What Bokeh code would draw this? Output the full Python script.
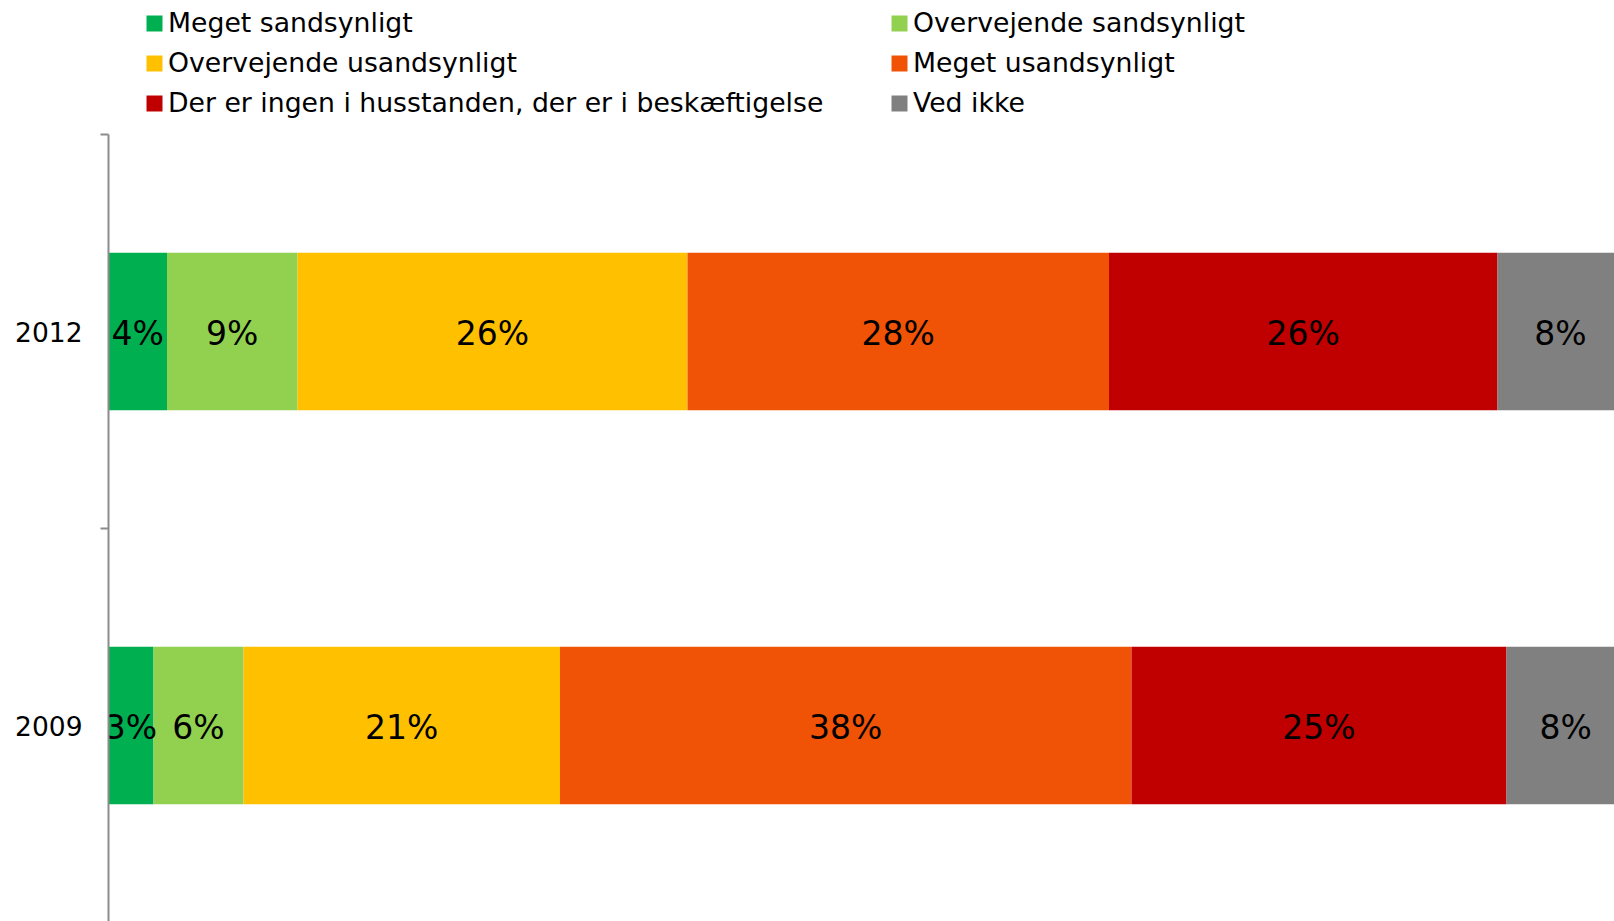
from bokeh.plotting import figure
from bokeh.models import Range1d, FixedTicker, Legend, LegendItem
from bokeh.embed import file_html
from bokeh.resources import INLINE
from bokeh.core.properties import value

# ---- data ----
years = ["2012", "2009"]
year_pos = [3, 1]
series = [
    "Meget sandsynligt",
    "Overvejende sandsynligt",
    "Overvejende usandsynligt",
    "Meget usandsynligt",
    "Der er ingen i husstanden, der er i beskæftigelse",
    "Ved ikke",
]
values_2012 = [3.9, 8.7, 26.0, 28.1, 25.9, 8.4]
values_2009 = [3.0, 6.0, 21.1, 38.1, 25.0, 7.9]
colors = ["#00B050", "#92D050", "#FFC000", "#F05206", "#C00000", "#808080"]

FONT = "DejaVu Sans"
AXIS_GRAY = "#8C8C8C"

W, H = 1614, 921
LEFT = 108          # frame left (canvas px)
TOP_AXIS = 134      # where the category axis starts (canvas px)
UNIT = 197          # px per y unit
PX_PER_PCT = 15

p = figure(
    width=W, height=H,
    output_backend="svg", toolbar_location=None,
    x_range=Range1d(0, (W - LEFT) / PX_PER_PCT),
    y_range=Range1d(4 - (H - TOP_AXIS) / UNIT, 4 + TOP_AXIS / UNIT),
    x_axis_location=None,
    min_border_left=LEFT, min_border_right=0, min_border_top=0, min_border_bottom=0,
    outline_line_color=None,
)
p.xgrid.visible = False
p.ygrid.visible = False

rows = [values_2012, values_2009]
lefts = [0.0 for _ in rows]
items = []
label_x, label_y, label_t = [], [], []
for i, name in enumerate(series):
    vals = [r[i] for r in rows]
    left = list(lefts)
    right = [l + v for l, v in zip(left, vals)]
    r = p.hbar(y=year_pos, left=left, right=right, height=0.8,
               fill_color=colors[i], line_color=None)
    items.append(LegendItem(label=name, renderers=[r]))
    for l, v, y in zip(left, vals, year_pos):
        label_x.append(l + v / 2)
        label_y.append(y)
        label_t.append(f"{round(v)}%")
    lefts = right

p.text(x=label_x, y=label_y, text=label_t, text_align="center", text_baseline="middle",
       y_offset=2,
       text_font=value(FONT), text_font_size="33px", text_color="black")

ax = p.yaxis[0]
ax.bounds = (0, 4)
ax.ticker = FixedTicker(ticks=year_pos, minor_ticks=[0, 2, 4])
ax.major_label_overrides = {pos: y for pos, y in zip(year_pos, years)}
ax.axis_line_color = AXIS_GRAY
ax.axis_line_width = 2
ax.major_tick_line_color = None
ax.major_tick_out = 0
ax.major_tick_in = 0
ax.minor_tick_line_color = AXIS_GRAY
ax.minor_tick_line_width = 2
ax.minor_tick_out = 8
ax.minor_tick_in = 0
ax.major_label_text_font = FONT
ax.major_label_text_font_size = "26.5px"
ax.major_label_text_color = "black"
ax.major_label_standoff = 18

LEG_H = 3 * 30 + 2 * 9
legend = Legend(
    items=items, orientation="horizontal", ncols=2,
    location=(36, H - 10 - LEG_H), margin=0, padding=0,
    glyph_width=20, glyph_height=20, label_standoff=4,
    label_width=712, label_height=30, spacing=9,
    label_text_font=FONT, label_text_font_size="26.7px", label_text_color="black",
    border_line_color=None, background_fill_alpha=0,
)
p.add_layout(legend, "center")

open("out.html", "w").write(file_html(p, INLINE))
